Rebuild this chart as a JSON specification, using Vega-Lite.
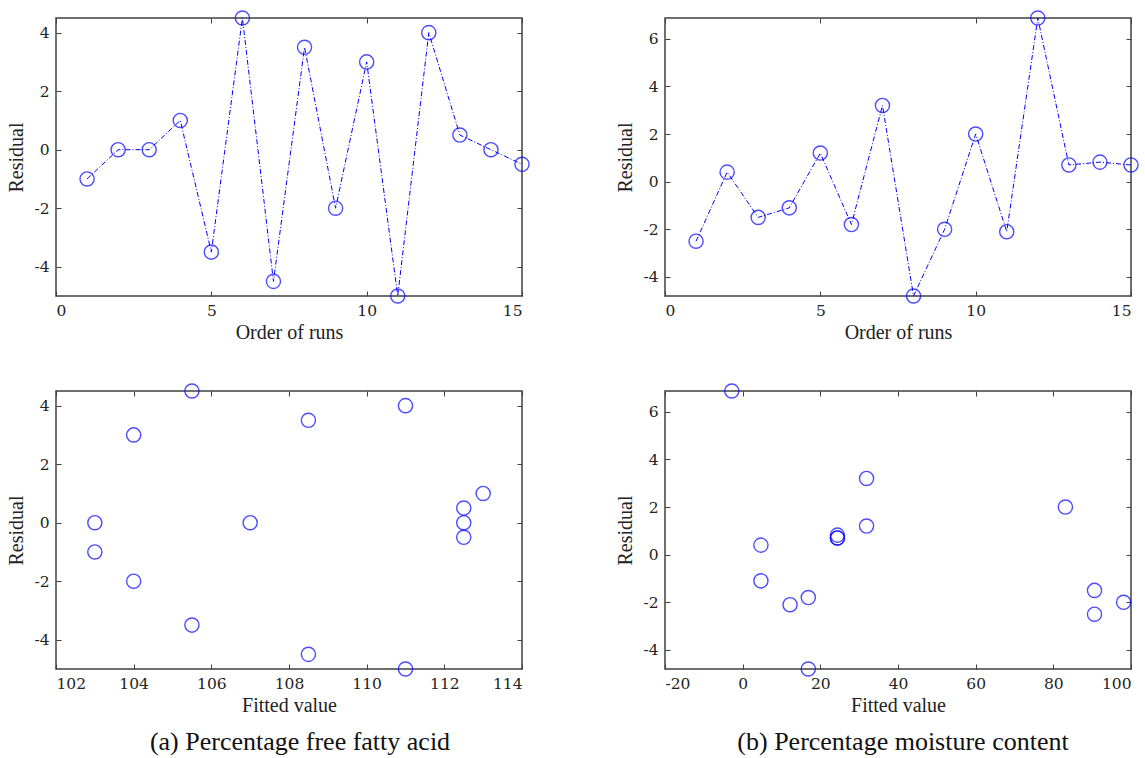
{
  "$schema": "https://vega.github.io/schema/vega-lite/v6.json",
  "padding": {"left": 6, "top": 7, "right": 5, "bottom": 5},
  "background": "white",
  "datasets": {
    "a": [
      {"run": 1, "resid": -1, "fit": 103},
      {"run": 2, "resid": 0, "fit": 103},
      {"run": 3, "resid": 0, "fit": 107},
      {"run": 4, "resid": 1, "fit": 113},
      {"run": 5, "resid": -3.5, "fit": 105.5},
      {"run": 6, "resid": 4.5, "fit": 105.5},
      {"run": 7, "resid": -4.5, "fit": 108.5},
      {"run": 8, "resid": 3.5, "fit": 108.5},
      {"run": 9, "resid": -2, "fit": 104},
      {"run": 10, "resid": 3, "fit": 104},
      {"run": 11, "resid": -5, "fit": 111},
      {"run": 12, "resid": 4, "fit": 111},
      {"run": 13, "resid": 0.5, "fit": 112.5},
      {"run": 14, "resid": 0, "fit": 112.5},
      {"run": 15, "resid": -0.5, "fit": 112.5}
    ],
    "b": [
      {"run": 1, "resid": -2.5, "fit": 90.6},
      {"run": 2, "resid": 0.4, "fit": 4.7},
      {"run": 3, "resid": -1.5, "fit": 90.6},
      {"run": 4, "resid": -1.1, "fit": 4.7},
      {"run": 5, "resid": 1.2, "fit": 31.9},
      {"run": 6, "resid": -1.8, "fit": 16.9},
      {"run": 7, "resid": 3.2, "fit": 31.9},
      {"run": 8, "resid": -4.8, "fit": 16.9},
      {"run": 9, "resid": -2.0, "fit": 98.1},
      {"run": 10, "resid": 2.0, "fit": 83.1},
      {"run": 11, "resid": -2.1, "fit": 12.2},
      {"run": 12, "resid": 6.87, "fit": -2.8},
      {"run": 13, "resid": 0.7, "fit": 24.4},
      {"run": 14, "resid": 0.82, "fit": 24.4},
      {"run": 15, "resid": 0.7, "fit": 24.4}
    ]
  },
  "config": {
    "font": "Liberation Serif",
    "view": {"stroke": "#404040", "strokeWidth": 1.5},
    "axis": {
      "domain": false,
      "grid": false,
      "ticks": true,
      "tickSize": -5,
      "tickColor": "#404040",
      "tickWidth": 1,
      "labelFont": "DejaVu Serif",
      "labelFontSize": 15.5,
      "labelColor": "#222222",
      "labelPadding": 12,
      "labelExpr": "toString(datum.value)",
      "titleFont": "Liberation Serif",
      "titleFontSize": 20,
      "titleFontWeight": "normal",
      "titleColor": "#222222"
    },
    "axisX": {"titlePadding": 4},
    "axisY": {"titlePadding": 7},
    "title": {"font": "Liberation Serif", "fontSize": 26, "fontWeight": "normal", "color": "#111111"}
  },
  "columns": 2,
  "bounds": "flush",
  "spacing": {"row": 95, "column": 143},
  "concat": [
    {
      "width": 466, "height": 278,
      "data": {"name": "a"},
      "layer": [
        {
          "mark": {"type": "line", "color": "#0000ff", "strokeWidth": 1, "strokeDash": [5, 2, 1, 2]},
          "encoding": {
            "x": {"field": "run", "type": "quantitative", "scale": {"domain": [0, 15], "nice": false}, "axis": {"values": [0, 5, 10, 15], "title": "Order of runs"}},
            "y": {"field": "resid", "type": "quantitative", "scale": {"domain": [-5, 4.5], "nice": false, "zero": false}, "axis": {"values": [-4, -2, 0, 2, 4], "title": "Residual"}}
          }
        },
        {
          "mark": {"type": "point", "shape": "circle", "filled": false, "size": 200, "color": "#0000ff", "strokeWidth": 1.4},
          "encoding": {
            "x": {"field": "run", "type": "quantitative", "axis": null},
            "y": {"field": "resid", "type": "quantitative", "axis": null}
          }
        },
        {
          "mark": {"type": "point", "opacity": 0},
          "encoding": {
            "x": {"field": "run", "type": "quantitative", "axis": {"orient": "top", "values": [0, 5, 10, 15], "labels": false, "title": null}},
            "y": {"field": "resid", "type": "quantitative", "axis": {"orient": "right", "values": [-4, -2, 0, 2, 4], "labels": false, "title": null}}
          }
        }
      ],
      "resolve": {"axis": {"x": "independent", "y": "independent"}}
    },
    {
      "width": 466, "height": 278,
      "data": {"name": "b"},
      "layer": [
        {
          "mark": {"type": "line", "color": "#0000ff", "strokeWidth": 1, "strokeDash": [5, 2, 1, 2]},
          "encoding": {
            "x": {"field": "run", "type": "quantitative", "scale": {"domain": [0, 15], "nice": false}, "axis": {"values": [0, 5, 10, 15], "title": "Order of runs"}},
            "y": {"field": "resid", "type": "quantitative", "scale": {"domain": [-4.8, 6.87], "nice": false, "zero": false}, "axis": {"values": [-4, -2, 0, 2, 4, 6], "title": "Residual"}}
          }
        },
        {
          "mark": {"type": "point", "shape": "circle", "filled": false, "size": 200, "color": "#0000ff", "strokeWidth": 1.4},
          "encoding": {
            "x": {"field": "run", "type": "quantitative", "axis": null},
            "y": {"field": "resid", "type": "quantitative", "axis": null}
          }
        },
        {
          "mark": {"type": "point", "opacity": 0},
          "encoding": {
            "x": {"field": "run", "type": "quantitative", "axis": {"orient": "top", "values": [0, 5, 10, 15], "labels": false, "title": null}},
            "y": {"field": "resid", "type": "quantitative", "axis": {"orient": "right", "values": [-4, -2, 0, 2, 4, 6], "labels": false, "title": null}}
          }
        }
      ],
      "resolve": {"axis": {"x": "independent", "y": "independent"}}
    },
    {
      "width": 466, "height": 278,
      "data": {"name": "a"},
      "title": {"text": "(a) Percentage free fatty acid", "orient": "bottom", "anchor": "middle", "frame": "group", "dx": 11, "offset": 13},
      "layer": [
        {
          "mark": {"type": "point", "shape": "circle", "filled": false, "size": 200, "color": "#0000ff", "strokeWidth": 1.4},
          "encoding": {
            "x": {"field": "fit", "type": "quantitative", "scale": {"domain": [102, 114], "nice": false, "zero": false}, "axis": {"values": [102, 104, 106, 108, 110, 112, 114], "title": "Fitted value"}},
            "y": {"field": "resid", "type": "quantitative", "scale": {"domain": [-5, 4.5], "nice": false, "zero": false}, "axis": {"values": [-4, -2, 0, 2, 4], "title": "Residual"}}
          }
        },
        {
          "mark": {"type": "point", "opacity": 0},
          "encoding": {
            "x": {"field": "fit", "type": "quantitative", "axis": {"orient": "top", "values": [102, 104, 106, 108, 110, 112, 114], "labels": false, "title": null}},
            "y": {"field": "resid", "type": "quantitative", "axis": {"orient": "right", "values": [-4, -2, 0, 2, 4], "labels": false, "title": null}}
          }
        }
      ],
      "resolve": {"axis": {"x": "independent", "y": "independent"}}
    },
    {
      "width": 466, "height": 278,
      "data": {"name": "b"},
      "title": {"text": "(b) Percentage moisture content", "orient": "bottom", "anchor": "middle", "frame": "group", "dx": 5, "offset": 13},
      "layer": [
        {
          "mark": {"type": "point", "shape": "circle", "filled": false, "size": 200, "color": "#0000ff", "strokeWidth": 1.4},
          "encoding": {
            "x": {"field": "fit", "type": "quantitative", "scale": {"domain": [-20, 100], "nice": false, "zero": false}, "axis": {"values": [-20, 0, 20, 40, 60, 80, 100], "title": "Fitted value"}},
            "y": {"field": "resid", "type": "quantitative", "scale": {"domain": [-4.8, 6.87], "nice": false, "zero": false}, "axis": {"values": [-4, -2, 0, 2, 4, 6], "title": "Residual"}}
          }
        },
        {
          "mark": {"type": "point", "opacity": 0},
          "encoding": {
            "x": {"field": "fit", "type": "quantitative", "axis": {"orient": "top", "values": [-20, 0, 20, 40, 60, 80, 100], "labels": false, "title": null}},
            "y": {"field": "resid", "type": "quantitative", "axis": {"orient": "right", "values": [-4, -2, 0, 2, 4, 6], "labels": false, "title": null}}
          }
        }
      ],
      "resolve": {"axis": {"x": "independent", "y": "independent"}}
    }
  ]
}
